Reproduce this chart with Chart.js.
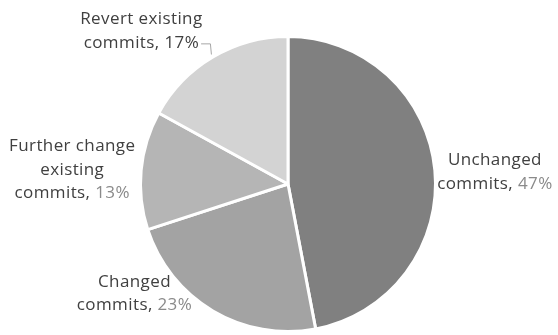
<!DOCTYPE html>
<html>
<head>
<meta charset="utf-8">
<script src="https://cdn.jsdelivr.net/npm/chart.js@4/dist/chart.umd.min.js"></script>
<style>
  html, body { margin: 0; padding: 0; background: #fff; }
  #wrap { width: 558px; height: 335px; position: relative; }
</style>
</head>
<body>
<div id="wrap"><canvas id="myChart"></canvas></div>
<script>
// commit outcome shares, clockwise from 12 o'clock
const categories = ['Unchanged commits', 'Changed commits', 'Further change existing commits', 'Revert existing commits'];
const shares = [47, 23, 13, 17];
// how each label is broken into lines
const labelLines = [
  ['Unchanged', 'commits'],
  ['Changed', 'commits'],
  ['Further change', 'existing', 'commits'],
  ['Revert existing', 'commits']
];
const sliceColors = ['#808080', '#a3a3a3', '#b5b5b5', '#d3d3d3'];
const percentColors = ['#8a8a8a', '#8a8a8a', '#8a8a8a', '#404040'];

// where the label block sits: direction (deg, clockwise from 3 o'clock) and distance in radii
const labelPlace = [
  { angle: -3.3, dist: 1.405 },
  { angle: 144.4, dist: 1.28 },
  { angle: 183.7, dist: 1.466 },
  { angle: 226.2, dist: 1.436, leader: true }
];

const FONT = '17px "Open Sans", sans-serif';
const LINE_H = 23.5;

const pieLabels = {
  id: 'pieLabels',
  afterDatasetsDraw(chart) {
    const ctx = chart.ctx;
    const arcs = chart.getDatasetMeta(0).data;
    ctx.save();
    ctx.font = FONT;
    if ('letterSpacing' in ctx) ctx.letterSpacing = '0.4px';
    ctx.textBaseline = 'middle';
    ctx.textAlign = 'center';
    arcs.forEach((arc, i) => {
      const r = arc.outerRadius;
      const a = labelPlace[i].angle * Math.PI / 180;
      const cx = arc.x + Math.cos(a) * r * labelPlace[i].dist;
      const cy = arc.y + Math.sin(a) * r * labelPlace[i].dist;
      const lines = labelLines[i];
      const top = cy - (lines.length - 1) * LINE_H / 2;
      let lastEnd = 0, lastY = 0;
      lines.forEach((txt, k) => {
        const y = top + k * LINE_H;
        if (k === lines.length - 1) {
          const head = txt + ', ';
          const pct = shares[i] + '%';
          const wHead = ctx.measureText(head).width;
          const wPct = ctx.measureText(pct).width;
          let x = cx - (wHead + wPct) / 2;
          ctx.textAlign = 'left';
          ctx.fillStyle = '#404040';
          ctx.fillText(head, x, y);
          ctx.fillStyle = percentColors[i];
          ctx.fillText(pct, x + wHead, y);
          ctx.textAlign = 'center';
          lastEnd = x + wHead + wPct;
          lastY = y;
        } else {
          ctx.fillStyle = '#404040';
          ctx.fillText(txt, cx, y);
        }
      });
      if (labelPlace[i].leader) {
        // leader line from the slice edge up to the end of the text
        const mid = (arc.startAngle + arc.endAngle) / 2;
        const ex = arc.x + Math.cos(mid) * r * 1.02;
        const ey = arc.y + Math.sin(mid) * r * 1.02;
        ctx.strokeStyle = '#a6a6a6';
        ctx.lineWidth = 1;
        ctx.beginPath();
        ctx.moveTo(lastEnd + 2, lastY + 1);
        ctx.lineTo(ex - 1, lastY + 1);
        ctx.lineTo(ex, ey);
        ctx.stroke();
      }
    });
    ctx.restore();
  }
};

function init() {
  const ctx = document.getElementById('myChart');
  new Chart(ctx, {
    type: 'pie',
    data: {
      labels: categories,
      datasets: [{
        data: shares,
        backgroundColor: sliceColors,
        borderColor: '#ffffff',
        borderWidth: 3
      }]
    },
    options: {
      responsive: true,
      maintainAspectRatio: false,
      animation: false,
      layout: {
        padding: { top: 35, bottom: 2, left: 139, right: 121 }
      },
      plugins: {
        legend: { display: false },
        tooltip: { enabled: false }
      }
    },
    plugins: [pieLabels]
  });
}

document.addEventListener('DOMContentLoaded', init, false);
</script>
</body>
</html>
